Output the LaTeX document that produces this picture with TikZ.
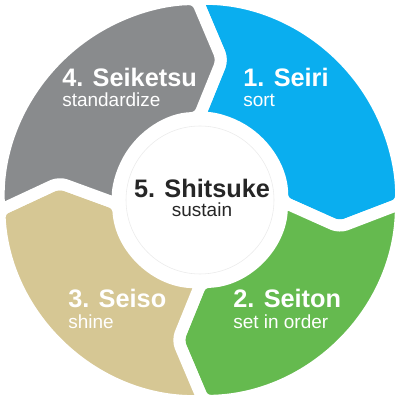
\documentclass[tikz,border=0pt]{standalone}
\usepackage{fontspec}
\setmainfont{Liberation Sans}
\usetikzlibrary{positioning}
\definecolor{bleu}{HTML}{0AAEEF}
\definecolor{vert}{HTML}{65BA4F}
\definecolor{beige}{HTML}{D6C794}
\definecolor{gris}{HTML}{898B8D}
\tikzset{
  secteur/.style={draw=white,line width=.3cm,line join=round,rounded corners=5pt},
  titre/.style={text=white,font=\fontsize{18}{20}\selectfont\bfseries,inner sep=0pt,anchor=base west},
  sous/.style={text=white,font=\fontsize{13.5}{15}\selectfont,inner sep=0pt,anchor=base west}
}
\begin{document}
\begin{tikzpicture}
\useasboundingbox (-5,-5) rectangle (5,5);%%
\def\R{5.025}\def\r{2.05}\def\m{3.55}%%
%%SECTEURS
\filldraw[secteur,fill=bleu] (91:\R) arc[start angle=91,end angle=-1,radius=\R] -- (-11:\m) -- (-1:\r) arc[start angle=-1,end angle=91,radius=\r] -- (81:\m) -- cycle;%%
\filldraw[secteur,fill=vert] (-1:\R) arc[start angle=-1,end angle=-89,radius=\R] -- (-99:\m) -- (-89:\r) arc[start angle=-89,end angle=-1,radius=\r] -- (-11:\m) -- cycle;%%
\filldraw[secteur,fill=beige] (-89:\R) arc[start angle=-89,end angle=-177,radius=\R] -- (173:\m) -- (183:\r) arc[start angle=183,end angle=271,radius=\r] -- (-99:\m) -- cycle;%%
\filldraw[secteur,fill=gris] (183:\R) arc[start angle=183,end angle=91,radius=\R] -- (81:\m) -- (91:\r) arc[start angle=91,end angle=183,radius=\r] -- (173:\m) -- cycle;%%
%%CENTRE
\node[circle,draw=black!8,fill=white,minimum size=3.7cm] (hub) at (0,0) {};%%
%%TEXTE
\node[titre] (seiri) at (1.075,2.825) {1. Seiri};%%
\node[sous] (sort) at (1.075,2.325) {sort};%%
\node[titre] (seiton) at (0.825,-2.7) {2. Seiton};%%
\node[sous] (order) at (0.825,-3.2) {set in order};%%
\node[titre] (seiso) at (-3.3,-2.7) {3. Seiso};%%
\node[sous] (shine) at (-3.3,-3.2) {shine};%%
\node[titre] (seiketsu) at (-3.45,2.825) {4. Seiketsu};%%
\node[sous] (standard) at (-3.45,2.325) {standardize};%%
\node[titre,text=black!85,anchor=base] (shitsuke) at (0.05,0.05) {5. Shitsuke};%%
\node[sous,text=black!85,anchor=base] (sustain) at (0.05,-0.425) {sustain};%%
\end{tikzpicture}
\end{document}
